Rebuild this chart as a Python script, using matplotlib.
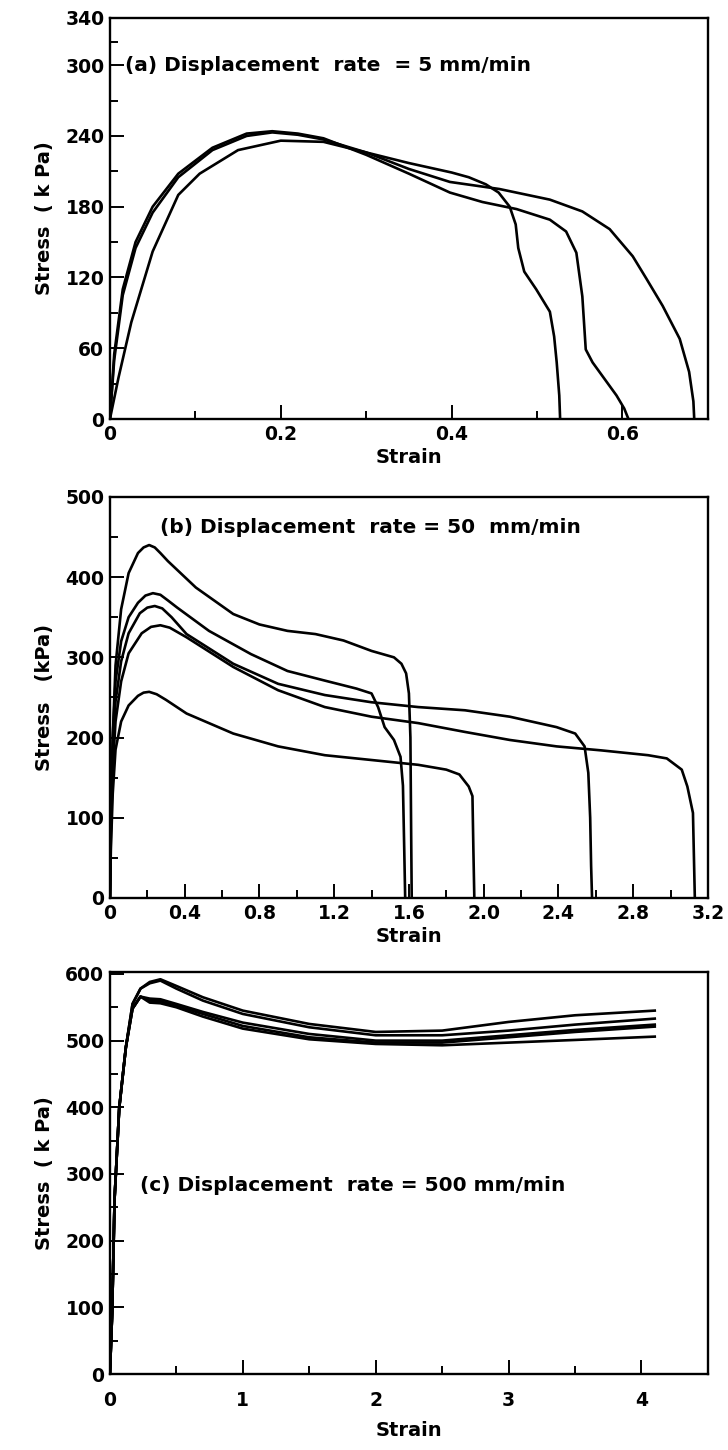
import matplotlib
matplotlib.use("Agg")
import matplotlib.pyplot as plt
from matplotlib.ticker import MultipleLocator, FixedLocator

# ---------------- Panel (a): 5 mm/min ----------------
a1_x = [0, 0.005, 0.015, 0.03, 0.05, 0.08, 0.12, 0.16, 0.19, 0.22, 0.25, 0.3, 0.35, 0.4, 0.42, 0.44, 0.455, 0.468, 0.475, 0.478, 0.485, 0.499, 0.515, 0.52, 0.523, 0.526, 0.527]
a1_y = [0, 50, 105, 145, 175, 205, 228, 240, 243, 241, 237, 226, 217, 209, 205, 199, 192, 180, 165, 145, 125, 110, 91, 70, 48, 20, 0]
a2_x = [0, 0.005, 0.015, 0.03, 0.05, 0.08, 0.12, 0.16, 0.19, 0.22, 0.25, 0.3, 0.35, 0.398, 0.436, 0.476, 0.515, 0.534, 0.546, 0.553, 0.557, 0.565, 0.573, 0.593, 0.602, 0.607]
a2_y = [0, 55, 110, 150, 180, 208, 230, 242, 244, 242, 238, 224, 208, 192, 184, 178, 169, 159, 141, 104, 59, 48, 40, 20, 9, 0]
a3_x = [0, 0.01, 0.025, 0.05, 0.08, 0.105, 0.15, 0.2, 0.25, 0.3, 0.35, 0.398, 0.456, 0.515, 0.553, 0.585, 0.612, 0.628, 0.647, 0.667, 0.678, 0.683, 0.684]
a3_y = [0, 35, 82, 142, 190, 208, 228, 236, 235, 226, 212, 201, 195, 186, 176, 161, 138, 119, 96, 68, 40, 15, 0]

# ---------------- Panel (b): 50 mm/min ----------------
b1_x = [0, 0.005, 0.015, 0.03, 0.06, 0.1, 0.15, 0.18, 0.21, 0.24, 0.27, 0.31, 0.46, 0.66, 0.8, 0.95, 1.1, 1.25, 1.4, 1.52, 1.56, 1.585, 1.6, 1.608, 1.612, 1.615]
b1_y = [0, 100, 200, 290, 360, 405, 430, 437, 440, 437, 430, 420, 387, 354, 341, 333, 329, 321, 308, 300, 292, 280, 255, 200, 80, 0]
b2_x = [0, 0.005, 0.015, 0.03, 0.06, 0.1, 0.15, 0.19, 0.23, 0.27, 0.31, 0.36, 0.53, 0.755, 0.95, 1.15, 1.32, 1.4, 1.435, 1.47, 1.52, 1.555, 1.568, 1.575, 1.58]
b2_y = [0, 100, 200, 270, 320, 350, 368, 377, 380, 378, 371, 362, 333, 304, 283, 271, 261, 255, 238, 213, 197, 176, 140, 60, 0]
b3_x = [0, 0.005, 0.015, 0.03, 0.06, 0.1, 0.16, 0.2, 0.24, 0.28, 0.33, 0.41, 0.66, 0.9, 1.15, 1.4, 1.65, 1.9, 2.14, 2.39, 2.49, 2.54, 2.56, 2.57, 2.575, 2.58]
b3_y = [0, 90, 180, 245, 295, 330, 355, 362, 364, 361, 350, 329, 292, 267, 253, 244, 238, 234, 226, 213, 205, 189, 156, 100, 40, 0]
b4_x = [0, 0.005, 0.015, 0.03, 0.06, 0.1, 0.17, 0.22, 0.27, 0.32, 0.41, 0.66, 0.9, 1.15, 1.4, 1.65, 1.9, 2.14, 2.39, 2.63, 2.88, 2.98, 3.06, 3.09, 3.12, 3.13]
b4_y = [0, 80, 160, 220, 270, 305, 330, 338, 340, 337, 325, 288, 259, 238, 226, 218, 207, 197, 189, 184, 178, 174, 160, 139, 106, 0]
b5_x = [0, 0.005, 0.015, 0.03, 0.06, 0.1, 0.15, 0.18, 0.21, 0.25, 0.3, 0.41, 0.66, 0.9, 1.15, 1.4, 1.65, 1.8, 1.87, 1.92, 1.94, 1.945, 1.95]
b5_y = [0, 60, 130, 185, 220, 240, 252, 256, 257, 254, 247, 230, 205, 189, 178, 172, 166, 160, 154, 139, 127, 60, 0]

# ---------------- Panel (c): 500 mm/min ----------------
c_x_rise = [0, 0.017, 0.035, 0.07, 0.12, 0.17, 0.23]
c1_y_rise = [0, 93, 263, 399, 490, 555, 578]
c2_y_rise = [0, 93, 263, 399, 490, 548, 566]
c_x = [0.3, 0.38, 0.5, 0.7, 1.0, 1.5, 2.0, 2.5, 3.0, 3.5, 4.1]
c1_y = [588, 592, 582, 565, 545, 525, 513, 515, 528, 538, 545]
c2_y = [586, 590, 578, 560, 540, 520, 508, 508, 515, 524, 533]
c3_y = [563, 562, 555, 543, 527, 510, 500, 500, 508, 516, 524]
c4_y = [560, 559, 552, 540, 522, 505, 497, 497, 505, 513, 521]
c5_y = [557, 556, 550, 536, 518, 502, 495, 493, 497, 501, 506]

panel_texts = ["(a) Displacement  rate  = 5 mm/min",
               "(b) Displacement  rate = 50  mm/min",
               "(c) Displacement  rate = 500 mm/min"]

plt.rcParams["font.family"] = ["DejaVu Sans"]
plt.rcParams["font.weight"] = "bold"

fig = plt.figure(figsize=(7.28, 14.5), dpi=100)

LW = 1.9
L, W = 0.151, 0.8214
TXT = 14.5

def style(ax, pad=4):
    for s in ax.spines.values():
        s.set_linewidth(1.7)
    ax.tick_params(which="both", direction="in", width=1.4, labelsize=13.5, pad=pad)
    ax.tick_params(which="major", length=10)
    ax.tick_params(which="minor", length=6)
    for lab in ax.get_xticklabels() + ax.get_yticklabels():
        lab.set_fontweight("bold")

# Panel a
axa = fig.add_axes([L, 0.711, W, 0.2766])
for xs, ys in [(a1_x, a1_y), (a2_x, a2_y), (a3_x, a3_y)]:
    axa.plot(xs, ys, color="black", lw=LW, solid_joinstyle="round")
axa.set_xlim(0, 0.70)
axa.set_ylim(0, 340)
axa.yaxis.set_major_locator(FixedLocator([0, 60, 120, 180, 240, 300, 340]))
axa.yaxis.set_minor_locator(FixedLocator([30, 90, 150, 210, 270, 320]))
axa.xaxis.set_major_locator(FixedLocator([0, 0.2, 0.4, 0.6]))
axa.xaxis.set_minor_locator(FixedLocator([0.1, 0.3, 0.5]))
axa.set_xticklabels(["0", "0.2", "0.4", "0.6"])
axa.set_yticklabels(["0", "60", "120", "180", "240", "300", "340"])
style(axa)
axa.set_xlabel("Strain", fontsize=14, fontweight="bold", labelpad=3)
axa.set_ylabel("Stress  ( k Pa)", fontsize=14, fontweight="bold", labelpad=8)
axa.text(0.025, 300, panel_texts[0], fontsize=TXT, fontweight="bold", va="center", ha="left",
         transform=axa.get_yaxis_transform())

# Panel b
axb = fig.add_axes([L, 0.3807, W, 0.2766])
for xs, ys in [(b1_x, b1_y), (b2_x, b2_y), (b3_x, b3_y), (b4_x, b4_y), (b5_x, b5_y)]:
    axb.plot(xs, ys, color="black", lw=LW, solid_joinstyle="round")
axb.set_xlim(0, 3.2)
axb.set_ylim(0, 500)
axb.xaxis.set_major_locator(FixedLocator([0, 0.4, 0.8, 1.2, 1.6, 2.0, 2.4, 2.8, 3.2]))
axb.xaxis.set_minor_locator(MultipleLocator(0.2))
axb.yaxis.set_major_locator(MultipleLocator(100))
axb.yaxis.set_minor_locator(MultipleLocator(50))
axb.set_xticklabels(["0", "0.4", "0.8", "1.2", "1.6", "2.0", "2.4", "2.8", "3.2"])
style(axb)
axb.set_xlabel("Strain", fontsize=14, fontweight="bold", labelpad=3)
axb.set_ylabel("Stress   (kPa)", fontsize=14, fontweight="bold", labelpad=8)
axb.text(0.27, 462, panel_texts[1], fontsize=TXT, fontweight="bold", va="center", ha="left")

# Panel c
axc = fig.add_axes([L, 0.0524, W, 0.2773])
rise_sets = [c1_y_rise, c1_y_rise, c2_y_rise, c2_y_rise, c2_y_rise]
for rise, ys in zip(rise_sets, [c1_y, c2_y, c3_y, c4_y, c5_y]):
    axc.plot(c_x_rise + c_x, rise + ys, color="black", lw=LW, solid_joinstyle="round")
axc.set_xlim(0, 4.5)
axc.set_ylim(0, 603)
axc.xaxis.set_major_locator(MultipleLocator(1))
axc.xaxis.set_minor_locator(MultipleLocator(0.5))
axc.yaxis.set_major_locator(MultipleLocator(100))
axc.yaxis.set_minor_locator(MultipleLocator(50))
style(axc)
axc.tick_params(axis="x", pad=12)
axc.set_xlabel("Strain", fontsize=14, fontweight="bold", labelpad=8)
axc.set_ylabel("Stress  ( k Pa)", fontsize=14, fontweight="bold", labelpad=8)
axc.text(0.23, 282, panel_texts[2], fontsize=TXT, fontweight="bold", va="center", ha="left")

fig.savefig("out.png", dpi=100)
